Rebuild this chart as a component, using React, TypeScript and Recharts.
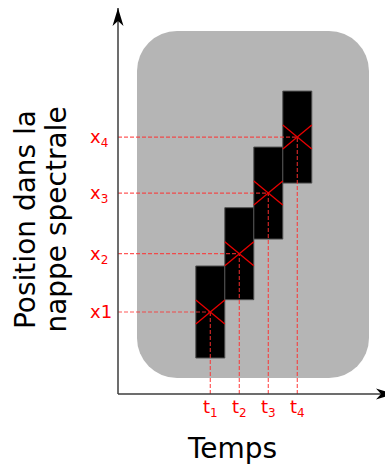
import {
  ComposedChart,
  XAxis,
  YAxis,
  Scatter,
  ReferenceArea,
  ReferenceLine,
  ReferenceDot,
} from 'recharts';

// time steps and spectral positions of each acquisition
const TIMES = [1, 2, 3, 4];
const POSITIONS = [1, 2, 3.04, 4];
const TIME_TICKS = ['t_1', 't_2', 't_3', 't_4'];
const POS_TICKS = ['x1', 'x_2', 'x_3', 'x_4'];

const X_DOMAIN: [number, number] = [-2.183, 7.024];
const Y_DOMAIN: [number, number] = [-0.4065, 6.214];

// background zone (in axis units)
const BG_X = [-1.528, 6.472];
const BG_Y = [-0.132, 5.82];

const BLOCK_HALF_W = 0.5;
const BLOCK_HALF_H = 0.789;
const CROSS_HALF_H = 0.206;

const RED = '#ff0000';
const FONT = '"DejaVu Sans", Verdana, sans-serif';

const points = TIMES.map((t, i) => ({ t, x: POSITIONS[i] }));

function splitLabel(s: string) {
  const [base, sub] = s.split('_');
  return { base, sub };
}

const TimeTick = (props: any) => {
  const { x, y, payload } = props;
  const { base, sub } = splitLabel(TIME_TICKS[TIMES.indexOf(payload.value)] ?? '');
  return (
    <text x={x} y={y + 19} textAnchor="middle" fill={RED} fontSize={18} fontFamily={FONT}>
      {base}
      {sub && (
        <tspan fontSize={12} dy={4}>
          {sub}
        </tspan>
      )}
    </text>
  );
};

const PosTick = (props: any) => {
  const { x, y, payload } = props;
  const { base, sub } = splitLabel(POS_TICKS[POSITIONS.indexOf(payload.value)] ?? '');
  return (
    <text x={x - 28} y={y + 6} textAnchor="start" fill={RED} fontSize={18} fontFamily={FONT}>
      {base}
      {sub && (
        <tspan fontSize={12} dy={4}>
          {sub}
        </tspan>
      )}
    </text>
  );
};

const RoundedBg = (p: any) => (
  <rect x={p.x} y={p.y} width={p.width} height={p.height} rx={40} ry={40} fill="#b5b5b5" />
);

const ArrowRight = (p: any) => {
  const tx = p.cx + 9;
  const cy = p.cy;
  return <path d={`M${tx},${cy} L${tx - 18},${cy - 5.5} L${tx - 13},${cy} L${tx - 18},${cy + 5.5} Z`} fill="#000" />;
};

const ArrowUp = (p: any) => {
  const cx = p.cx;
  const ty = p.cy;
  return <path d={`M${cx},${ty} L${cx - 5.5},${ty + 18} L${cx},${ty + 13} L${cx + 5.5},${ty + 18} Z`} fill="#000" />;
};

export default function App() {
  return (
    <div style={{ position: 'absolute', left: 0, top: 0, background: '#fff' }}>
      <ComposedChart width={385} height={465} margin={{ top: 8, right: 0, bottom: 41, left: 58 }}>
        <XAxis
          type="number"
          dataKey="t"
          domain={X_DOMAIN}
          ticks={TIMES}
          interval={0}
          allowDataOverflow
          height={30}
          tickLine={false}
          tickSize={0}
          tickMargin={0}
          axisLine={{ stroke: '#3c3c3c', strokeWidth: 1.5 }}
          tick={TimeTick}
          label={(p: any) => (
            <text
              x={p.viewBox.x + 114.5}
              y={p.viewBox.y + 64}
              textAnchor="middle"
              fontSize={28}
              fontFamily={FONT}
              fill="#000"
            >
              Temps
            </text>
          )}
        />
        <YAxis
          type="number"
          dataKey="x"
          domain={Y_DOMAIN}
          ticks={POSITIONS}
          interval={0}
          allowDataOverflow
          width={60}
          tickLine={false}
          tickSize={0}
          tickMargin={0}
          axisLine={{ stroke: '#3c3c3c', strokeWidth: 1.5 }}
          tick={PosTick}
          label={(p: any) => {
            const lx = p.viewBox.x - 23;
            const ly = p.viewBox.y + 211.5;
            return (
              <text
                x={lx}
                y={ly}
                transform={`rotate(-90 ${lx} ${ly})`}
                textAnchor="middle"
                fontSize={28}
                fontFamily={FONT}
                fill="#000"
              >
                <tspan x={lx} dy={0}>Position dans la</tspan>
                <tspan x={lx} dy={31}>nappe spectrale</tspan>
              </text>
            );
          }}
        />

        <ReferenceArea
          x1={BG_X[0]}
          x2={BG_X[1]}
          y1={BG_Y[0]}
          y2={BG_Y[1]}
          shape={RoundedBg}
          ifOverflow="visible"
        />

        {points.map((p) => (
          <ReferenceArea
            key={`b${p.t}`}
            x1={p.t - BLOCK_HALF_W}
            x2={p.t + BLOCK_HALF_W}
            y1={p.x - BLOCK_HALF_H}
            y2={p.x + BLOCK_HALF_H}
            fill="#000"
            fillOpacity={1}
            stroke="#505050"
            strokeWidth={1}
            ifOverflow="visible"
          />
        ))}

        {points.map((p) => (
          <ReferenceLine
            key={`h${p.t}`}
            segment={[{ x: X_DOMAIN[0], y: p.x }, { x: p.t, y: p.x }]}
            stroke="#ff3030"
            strokeOpacity={0.8}
            strokeWidth={1.2}
            strokeDasharray="4 2"
            ifOverflow="visible"
          />
        ))}
        {points.map((p) => (
          <ReferenceLine
            key={`v${p.t}`}
            segment={[{ x: p.t, y: Y_DOMAIN[0] }, { x: p.t, y: p.x }]}
            stroke="#ff3030"
            strokeOpacity={0.8}
            strokeWidth={1.2}
            strokeDasharray="4 2"
            ifOverflow="visible"
          />
        ))}

        {points.map((p) => (
          <ReferenceLine
            key={`c1${p.t}`}
            segment={[
              { x: p.t - BLOCK_HALF_W, y: p.x + CROSS_HALF_H },
              { x: p.t + BLOCK_HALF_W, y: p.x - CROSS_HALF_H },
            ]}
            stroke="#e80000"
            strokeWidth={1.3}
            ifOverflow="visible"
          />
        ))}
        {points.map((p) => (
          <ReferenceLine
            key={`c2${p.t}`}
            segment={[
              { x: p.t - BLOCK_HALF_W, y: p.x - CROSS_HALF_H },
              { x: p.t + BLOCK_HALF_W, y: p.x + CROSS_HALF_H },
            ]}
            stroke="#e80000"
            strokeWidth={1.3}
            ifOverflow="visible"
          />
        ))}

        <Scatter data={points} dataKey="x" shape={() => <g />} isAnimationActive={false} />

        <ReferenceDot x={X_DOMAIN[1]} y={Y_DOMAIN[0]} shape={ArrowRight} ifOverflow="visible" />
        <ReferenceDot x={X_DOMAIN[0]} y={Y_DOMAIN[1]} shape={ArrowUp} ifOverflow="visible" />
      </ComposedChart>
    </div>
  );
}
